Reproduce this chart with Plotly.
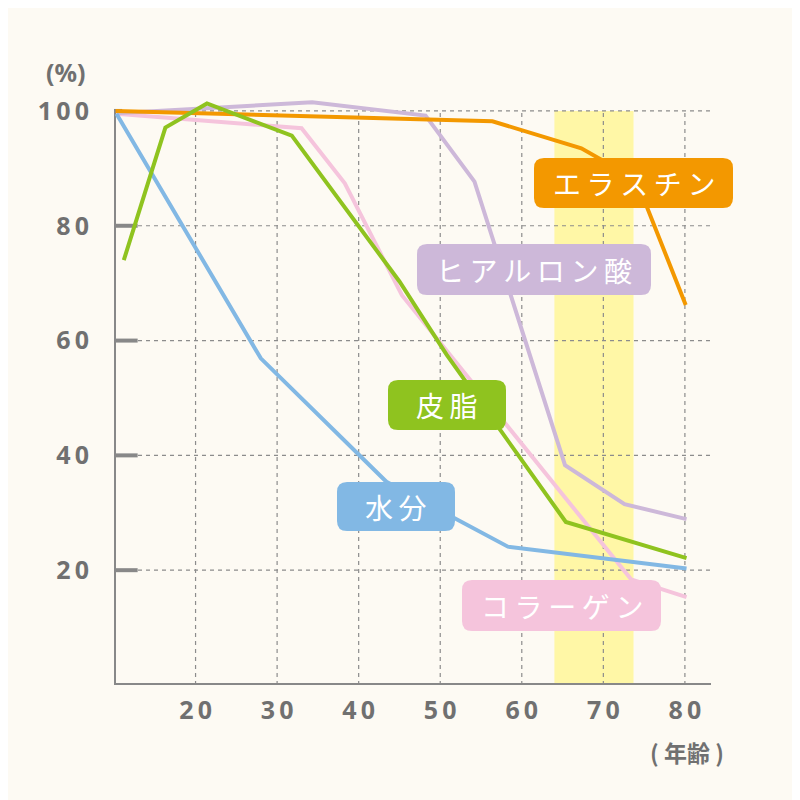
# skin components vs age chart
import plotly.graph_objects as go

# ---- data (age in years, level in %) ----
age_elastin = [10.2, 56.4, 67.3, 74.0, 80.1]
elastin = [100, 98.2, 93.5, 88.1, 66.2]

age_hyaluron = [10.3, 21, 34.3, 48.2, 54.2, 65.3, 72.6, 80.2]
hyaluron = [99.6, 100.5, 101.5, 99.2, 87.7, 38.3, 31.5, 28.9]

age_sebum = [11.2, 16.3, 21.4, 31.8, 45.0, 50.8, 65.4, 80.2]
sebum = [74.0, 97.1, 101.3, 95.7, 70.3, 57.5, 28.4, 22.1]

age_water = [10.3, 28.0, 43.4, 58.3, 80.2]
water = [99.5, 56.9, 35.4, 24.1, 20.3]

age_collagen = [10.3, 33.0, 38.3, 45.3, 73.4, 80.2]
collagen = [99.5, 97.0, 87.4, 67.9, 18.4, 15.3]

x_ticks = [20, 30, 40, 50, 60, 70, 80]
y_ticks = [20, 40, 60, 80, 100]
highlight = [64, 73.7]   # shaded age band

# ---- styles ----
BG = '#fdfaf3'
AXIS = '#888888'
TEXT = '#707070'
GRID = '#8c8c8c'
C_ELASTIN = '#f39800'
C_HYALURON = '#cdb8d9'
C_SEBUM = '#8fc31f'
C_WATER = '#82b8e4'
C_COLLAGEN = '#f5c4dc'

X_MIN, X_MAX = 10, 83.2
Y_MIN, Y_MAX = 0, 104
OFF = 8  # page body margin
ML, MT = 114 - OFF, 88 - OFF
W = H = 597
MR = 800 - ML - W
MB = 800 - MT - H

def spaced(s, sep='\u2009'):
    return sep.join(list(s))

fig = go.Figure()

# lines, bottom to top
series = [
    ('コラーゲン', age_collagen, collagen, C_COLLAGEN),
    ('ヒアルロン酸', age_hyaluron, hyaluron, C_HYALURON),
    ('エラスチン', age_elastin, elastin, C_ELASTIN),
    ('水分', age_water, water, C_WATER),
    ('皮脂', age_sebum, sebum, C_SEBUM),
]
for name, xs, ys, col in series:
    fig.add_trace(go.Scatter(x=xs, y=ys, mode='lines', name=name,
                             line=dict(color=col, width=4),
                             hoverinfo='skip'))

shapes = []
# yellow band
shapes.append(dict(type='rect', xref='x', yref='y', x0=highlight[0], x1=highlight[1],
                   y0=0, y1=100, fillcolor='#fff7a6', line=dict(width=0), layer='below'))
# dashed grid
for v in x_ticks:
    shapes.append(dict(type='line', xref='x', yref='y', x0=v, x1=v, y0=0, y1=100,
                       line=dict(color=GRID, width=1.2, dash='4px,4px'), layer='below'))
for v in y_ticks:
    shapes.append(dict(type='line', xref='x', yref='y', x0=X_MIN, x1=X_MAX, y0=v, y1=v,
                       line=dict(color=GRID, width=1.2, dash='4px,4px'), layer='below'))
# axis lines + y stubs
shapes.append(dict(type='line', xref='x', yref='y', x0=X_MIN, x1=X_MIN, y0=0, y1=100,
                   line=dict(color=AXIS, width=4), layer='below'))
shapes.append(dict(type='line', xref='x', yref='y', x0=X_MIN, x1=X_MAX, y0=0, y1=0,
                   line=dict(color=AXIS, width=4), layer='below'))
for v in y_ticks:
    stub = 1.0 if v == 100 else 2.9
    shapes.append(dict(type='line', xref='x', yref='y', x0=X_MIN, x1=X_MIN + stub, y0=v, y1=v,
                       line=dict(color=AXIS, width=4), layer='below'))

# rounded label boxes (window pixel boxes converted to paper coords)
def px2paper(px, py):
    return (px - OFF - ML) / W, (800 - MB - (py - OFF)) / H

def rounded_box(x0, y0, x1, y1, r=10):
    # y0 top, y1 bottom, in pixels
    pts = [('M', x0 + r, y0), ('L', x1 - r, y0), ('Q', x1, y0, x1, y0 + r),
           ('L', x1, y1 - r), ('Q', x1, y1, x1 - r, y1), ('L', x0 + r, y1),
           ('Q', x0, y1, x0, y1 - r), ('L', x0, y0 + r), ('Q', x0, y0, x0 + r, y0)]
    path = ''
    for p in pts:
        cmd = p[0]
        coords = p[1:]
        parts = []
        for i in range(0, len(coords), 2):
            a, b = px2paper(coords[i], coords[i + 1])
            parts.append('%.5f,%.5f' % (a, b))
        path += cmd + ' '.join(parts) + ' '
    return path + 'Z'

labels = [
    ('エラスチン', C_ELASTIN, (534, 158, 733, 208)),
    ('ヒアルロン酸', C_HYALURON, (417, 244, 651, 295)),
    ('皮脂', C_SEBUM, (388, 380, 506, 430)),
    ('水分', C_WATER, (337, 482, 455, 531)),
    ('コラーゲン', C_COLLAGEN, (462, 580, 661, 631)),
]
annotations = []
for text, col, (x0, y0, x1, y1) in labels:
    shapes.append(dict(type='path', xref='paper', yref='paper',
                       path=rounded_box(x0, y0, x1, y1),
                       fillcolor=col, line=dict(width=0), layer='above'))
    cx, cy = px2paper((x0 + x1) / 2, (y0 + y1) / 2)
    annotations.append(dict(xref='paper', yref='paper', x=cx, y=cy, text=spaced(text),
                            showarrow=False, xanchor='center', yanchor='middle',
                            font=dict(family='Noto Sans CJK JP', size=28, color='white')))

# unit labels
ux, uy = px2paper(66, 72)
annotations.append(dict(xref='paper', yref='paper', x=ux, y=uy, text='(%)', showarrow=False,
                        xanchor='center', yanchor='middle',
                        font=dict(family='Noto Sans', size=25, color=TEXT, weight='bold')))
ax_, ay_ = px2paper(687, 752)
annotations.append(dict(xref='paper', yref='paper', x=ax_, y=ay_, text='( 年齢 )',
                        showarrow=False, xanchor='center', yanchor='middle',
                        font=dict(family='Noto Sans CJK JP', size=23, color=TEXT, weight='bold')))

tick_font = dict(family='Noto Sans', size=25, color=TEXT, weight='bold')

fig.update_layout(
    width=800, height=800,
    paper_bgcolor=BG, plot_bgcolor=BG,
    margin=dict(l=ML, r=MR, t=MT, b=MB),
    showlegend=False,
    shapes=shapes,
    annotations=annotations,
    xaxis=dict(range=[X_MIN, X_MAX], showgrid=False, zeroline=False, showline=False,
               tickvals=x_ticks, ticktext=[spaced(str(v)) for v in x_ticks],
               tickfont=tick_font, ticks='', ticklabelstandoff=8),
    yaxis=dict(range=[Y_MIN, Y_MAX], showgrid=False, zeroline=False, showline=False,
               tickvals=y_ticks, ticktext=[spaced(str(v)) for v in y_ticks],
               tickfont=tick_font, ticks='', ticklabelstandoff=24),
)

fig.write_html("out.html")
